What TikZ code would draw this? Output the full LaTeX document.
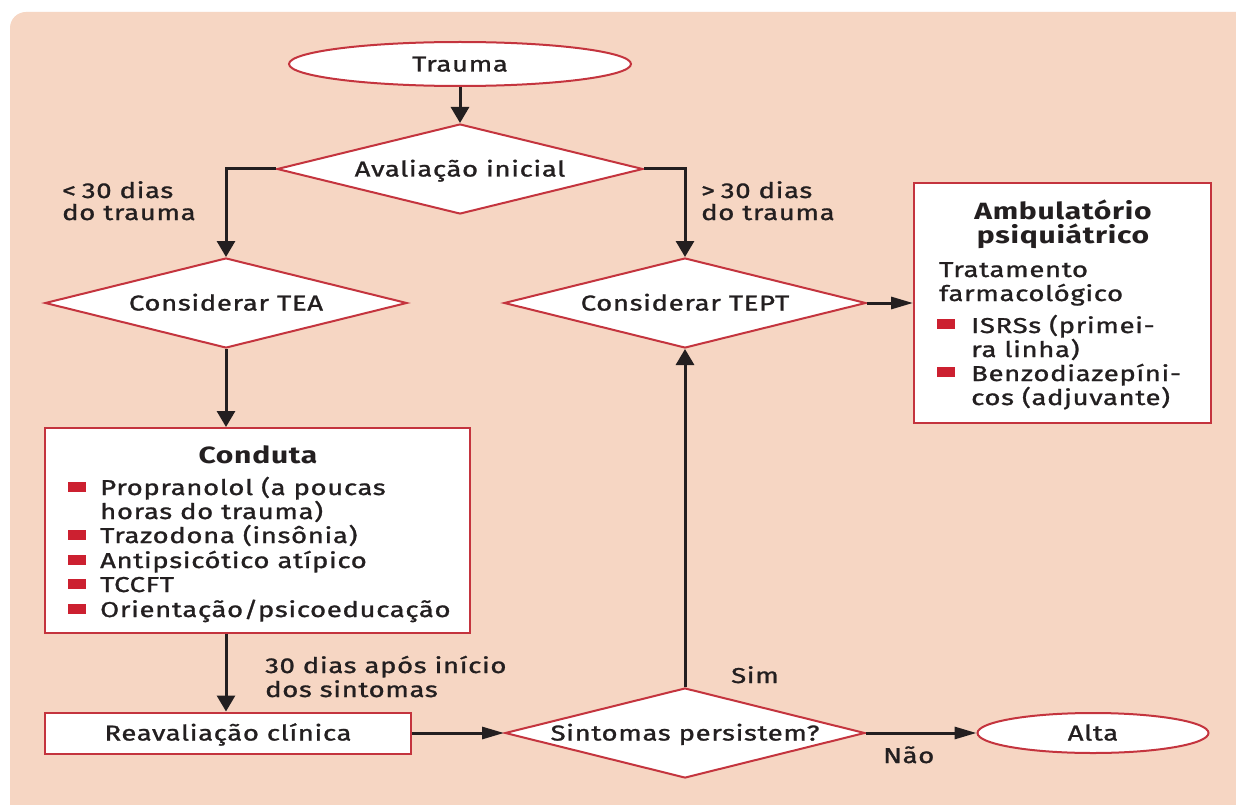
\documentclass[tikz,border=0pt]{standalone}
\usepackage{fontspec}
\setmainfont{Fira Sans}[FakeStretch=1.28,LetterSpace=3,UprightFeatures={FakeBold=1.2}]
\usetikzlibrary{shapes.geometric,arrows.meta}
\definecolor{peach}{RGB}{246,214,195}
\definecolor{bord}{RGB}{196,52,62}
\definecolor{bul}{RGB}{204,32,48}
\definecolor{ink}{RGB}{35,31,32}
\tikzset{
  every node/.style={font=\fontsize{21.5}{24.5}\selectfont, text=ink},
  every label/.style={inner sep=0pt, text height=15pt, text depth=0pt},
  ell/.style={ellipse, draw=bord, line width=2pt, fill=white, inner sep=0pt},
  dia/.style={diamond, draw=bord, line width=2pt, fill=white, inner sep=0pt},
  boxx/.style={rectangle, draw=bord, line width=2pt, fill=white, inner sep=0pt},
  vconn/.style={draw=ink, line width=3pt, -{Triangle[length=16pt,width=18pt]}},
  hconn/.style={draw=ink, line width=3pt, -{Triangle[length=22pt,width=12pt]}},
  txt/.style={inner sep=0pt, anchor=base west},
  ctxt/.style={inner sep=0pt, anchor=base},
  head/.style={ctxt, font=\fontsize{23.5}{26}\selectfont\bfseries},
  bulletsq/.style={fill=bul, minimum width=18pt, minimum height=10pt, inner sep=0pt, anchor=west}
}
\begin{document}
\begin{tikzpicture}[x=1pt,y=-1pt]
\useasboundingbox (0,0) rectangle (1236,805);
\fill[white] (0,0) rectangle (1236,805);
\fill[peach, rounded corners=16pt] (10,12) rectangle (1270,840);

% shapes
\node[ell, minimum width=342pt, minimum height=44pt, label=center:Trauma] (trauma) at (460,64) {};
\node[dia, minimum width=366pt, minimum height=90pt, label=center:{Avaliação inicial}] (aval) at (460,169) {};
\node[dia, minimum width=362pt, minimum height=90pt, label=center:{Considerar TEA}] (tea) at (226,303) {};
\node[dia, minimum width=362pt, minimum height=90pt, label=center:{Considerar TEPT}] (tept) at (685,303) {};
\node[dia, minimum width=360pt, minimum height=90pt, label=center:{Sintomas persistem?}] (sint) at (685,733) {};
\node[boxx, minimum width=425pt, minimum height=205pt] (cond) at (257.5,530.5) {};
\node[boxx, minimum width=366pt, minimum height=41pt, label=center:{Reavaliação clínica}] (reav) at (228,733) {};
\node[boxx, minimum width=297pt, minimum height=240pt] (amb) at (1062.5,303) {};
\node[ell, minimum width=231pt, minimum height=40pt, label=center:Alta] (alta) at (1093,733) {};

% connectors
\draw[vconn] (trauma) -- (aval);
\draw[vconn] (aval.west) -| (tea.north);
\draw[vconn] (aval.east) -| (tept.north);
\draw[vconn] (tea.south) -- (tea.south |- cond.north);
\draw[vconn] (tea.south |- cond.south) -- (tea.south |- reav.north);
\draw[hconn] (reav.east) -- (sint.west);
\draw[vconn] (sint.north) -- (tept.south);
\draw[hconn] (tept.east) -- (amb.west |- tept.east);
\draw[hconn] (sint.east) -- (alta.west);

% edge labels
\node[txt] (lt1) at (62,198) {<\;30 dias};
\node[txt] (lt2) at (62,220) {do trauma};
\node[txt] (gt1) at (701,198) {>\;30 dias};
\node[txt] (gt2) at (701,220) {do trauma};
\node[txt] (d1) at (265,673) {30 dias após início};
\node[txt] (d2) at (265,697) {dos sintomas};
\node[txt] (sim) at (731,683) {Sim};
\node[txt] (nao) at (883,763) {Não};

% Conduta contents
\node[head] (ct) at (258,463) {Conduta};
\node[bulletsq] (b1) at (68,486.5) {};
\node[txt] (c1) at (100,495) {Propranolol (a poucas};
\node[txt] (c1b) at (100,519) {horas do trauma)};
\node[bulletsq] (b2) at (68,534.5) {};
\node[txt] (c2) at (100,543) {Trazodona (insônia)};
\node[bulletsq] (b3) at (68,559.5) {};
\node[txt] (c3) at (100,568) {Antipsicótico atípico};
\node[bulletsq] (b4) at (68,583.5) {};
\node[txt] (c4) at (100,592) {TCCFT};
\node[bulletsq] (b5) at (68,608.5) {};
\node[txt] (c5) at (100,617) {Orientação/psicoeducação};

% Ambulatorio contents
\node[head] (at1) at (1063,219) {Ambulatório};
\node[head] (at2) at (1063,243) {psiquiátrico};
\node[txt] (a1) at (939,277) {Tratamento};
\node[txt] (a2) at (939,301) {farmacológico};
\node[bulletsq] (ab1) at (937,324) {};
\node[txt] (a3) at (971,333) {ISRSs (primei-};
\node[txt] (a3b) at (971,357) {ra linha)};
\node[bulletsq] (ab2) at (937,372) {};
\node[txt] (a4) at (971,381) {Benzodiazepíni-};
\node[txt] (a4b) at (971,405) {cos (adjuvante)};
\end{tikzpicture}
\end{document}
